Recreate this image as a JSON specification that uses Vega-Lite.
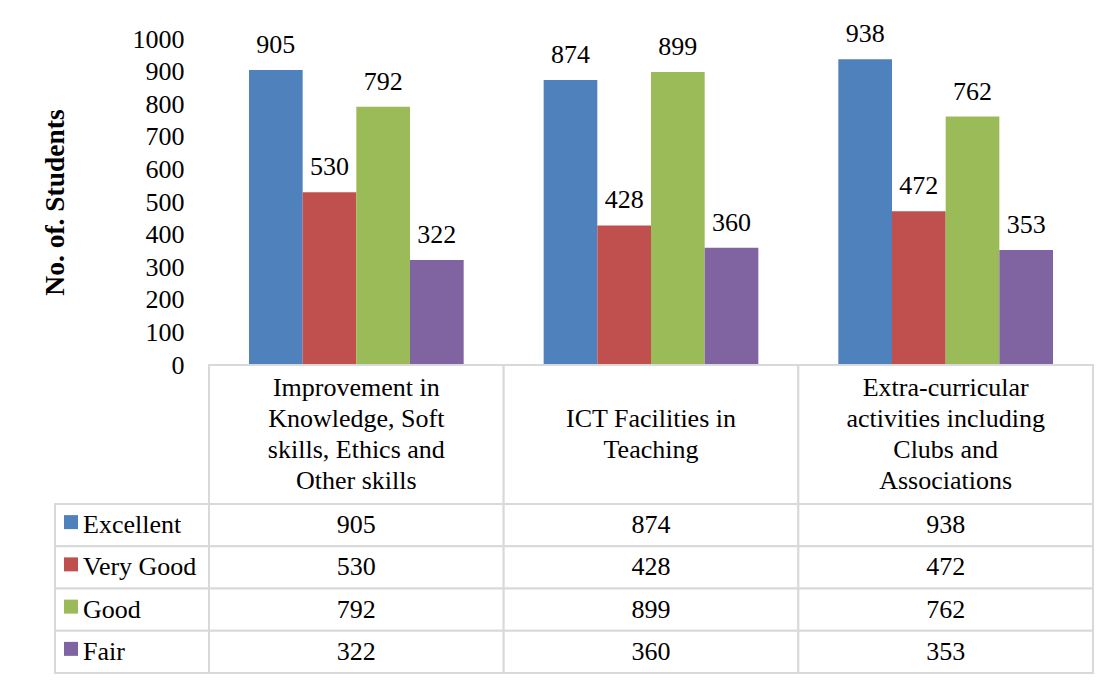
{
  "$schema": "https://vega.github.io/schema/vega-lite/v6.json",
  "autosize": {"type": "pad"},
  "padding": {"left": 41, "top": 21, "right": 20, "bottom": 7},
  "background": "white",
  "config": {
    "view": {"stroke": null},
    "font": "Liberation Serif",
    "text": {"font": "Liberation Serif", "fontSize": 26, "color": "black"}
  },
  "datasets": {
    "scores": [
      {"category": "Improvement in Knowledge, Soft skills, Ethics and Other skills", "series": "Excellent", "value": 905},
      {"category": "Improvement in Knowledge, Soft skills, Ethics and Other skills", "series": "Very Good", "value": 530},
      {"category": "Improvement in Knowledge, Soft skills, Ethics and Other skills", "series": "Good", "value": 792},
      {"category": "Improvement in Knowledge, Soft skills, Ethics and Other skills", "series": "Fair", "value": 322},
      {"category": "ICT Facilities in Teaching", "series": "Excellent", "value": 874},
      {"category": "ICT Facilities in Teaching", "series": "Very Good", "value": 428},
      {"category": "ICT Facilities in Teaching", "series": "Good", "value": 899},
      {"category": "ICT Facilities in Teaching", "series": "Fair", "value": 360},
      {"category": "Extra-curricular activities including Clubs and Associations", "series": "Excellent", "value": 938},
      {"category": "Extra-curricular activities including Clubs and Associations", "series": "Very Good", "value": 472},
      {"category": "Extra-curricular activities including Clubs and Associations", "series": "Good", "value": 762},
      {"category": "Extra-curricular activities including Clubs and Associations", "series": "Fair", "value": 353}
    ],
    "categories": [
      {"category": "Improvement in Knowledge, Soft skills, Ethics and Other skills", "label": ["Improvement in", "Knowledge, Soft", "skills, Ethics and", "Other skills"]},
      {"category": "ICT Facilities in Teaching", "label": ["ICT Facilities in", "Teaching"]},
      {"category": "Extra-curricular activities including Clubs and Associations", "label": ["Extra-curricular", "activities including", "Clubs and", "Associations"]}
    ]
  },
  "columns": 2,
  "spacing": 0,
  "bounds": "flush",
  "align": "each",
  "concat": [
    {
      "width": 154, "height": 326,
      "data": {"values": [{}]},
      "mark": {"type": "text"},
      "encoding": {"text": {"value": ""}}
    },
    {
      "width": 884, "height": 326,
      "data": {"name": "scores"},
      "encoding": {
        "x": {"field": "category", "type": "nominal", "sort": null,
              "scale": {"paddingInner": 0, "paddingOuter": 0}, "axis": null},
        "xOffset": {"field": "series", "type": "nominal",
                    "sort": ["Excellent", "Very Good", "Good", "Fair"],
                    "scale": {"domain": ["Excellent", "Very Good", "Good", "Fair"], "paddingInner": 0, "paddingOuter": 0.745}},
        "y": {"field": "value", "type": "quantitative",
              "scale": {"domain": [0, 1000], "nice": false},
              "axis": {
                "title": "No. of.  Students",
                "titleFont": "Liberation Serif", "titleFontSize": 27.5, "titleFontWeight": "bold", "titleColor": "black",
                "titlePadding": 63,
                "labelFont": "Liberation Serif", "labelFontSize": 26, "labelColor": "black", "labelPadding": 25,
                "format": "d",
                "values": [0, 100, 200, 300, 400, 500, 600, 700, 800, 900, 1000],
                "ticks": false, "domain": false, "grid": false
              }}
      },
      "layer": [
        {
          "mark": {"type": "bar"},
          "encoding": {
            "color": {"field": "series", "type": "nominal",
                      "scale": {"domain": ["Excellent", "Very Good", "Good", "Fair"], "range": ["#4F81BD", "#C0504D", "#9BBB59", "#8064A2"]},
                      "legend": null}
          }
        },
        {
          "mark": {"type": "text", "baseline": "alphabetic", "dy": -17, "fontSize": 26, "font": "Liberation Serif", "color": "black"},
          "encoding": {"text": {"field": "value", "type": "quantitative"}}
        }
      ]
    },
    {
      "width": 154, "height": 139,
      "data": {"values": [{}]},
      "mark": {"type": "text"},
      "encoding": {"text": {"value": ""}}
    },
    {
      "width": 884, "height": 139,
      "data": {"name": "categories"},
      "encoding": {
        "x": {"field": "category", "type": "nominal", "sort": null,
              "scale": {"paddingInner": 0, "paddingOuter": 0}, "axis": null}
      },
      "layer": [
        {"mark": {"type": "rect", "fill": "white", "stroke": "#D9D9D9", "strokeWidth": 2}},
        {
          "mark": {"type": "text", "baseline": "middle", "align": "center", "lineHeight": 31, "fontSize": 26,
                   "font": "Liberation Serif", "color": "black",
                   "dy": {"expr": "-(length(datum.label) - 1) * 15.5"}},
          "encoding": {"text": {"field": "label"}}
        }
      ]
    },
    {
      "width": 154, "height": 169,
      "data": {"name": "scores"},
      "transform": [{"filter": "datum.category === 'ICT Facilities in Teaching'"}],
      "encoding": {
        "y": {"field": "series", "type": "nominal", "sort": ["Excellent", "Very Good", "Good", "Fair"],
              "scale": {"paddingInner": 0, "paddingOuter": 0}, "axis": null}
      },
      "layer": [
        {"mark": {"type": "rect", "fill": "white", "stroke": "#D9D9D9", "strokeWidth": 2}},
        {
          "mark": {"type": "point", "shape": "square", "filled": true, "size": 196, "opacity": 1, "xOffset": -61, "yOffset": -3},
          "encoding": {
            "color": {"field": "series", "type": "nominal",
                      "scale": {"domain": ["Excellent", "Very Good", "Good", "Fair"], "range": ["#4F81BD", "#C0504D", "#9BBB59", "#8064A2"]},
                      "legend": null}
          }
        },
        {
          "mark": {"type": "text", "align": "left", "baseline": "middle", "dx": -49, "fontSize": 26, "font": "Liberation Serif", "color": "black"},
          "encoding": {"text": {"field": "series"}}
        }
      ]
    },
    {
      "width": 884, "height": 169,
      "data": {"name": "scores"},
      "encoding": {
        "x": {"field": "category", "type": "nominal", "sort": null,
              "scale": {"paddingInner": 0, "paddingOuter": 0}, "axis": null},
        "y": {"field": "series", "type": "nominal", "sort": ["Excellent", "Very Good", "Good", "Fair"],
              "scale": {"paddingInner": 0, "paddingOuter": 0}, "axis": null}
      },
      "layer": [
        {"mark": {"type": "rect", "fill": "white", "stroke": "#D9D9D9", "strokeWidth": 2}},
        {
          "mark": {"type": "text", "align": "center", "baseline": "middle", "fontSize": 26, "font": "Liberation Serif", "color": "black"},
          "encoding": {"text": {"field": "value", "type": "quantitative"}}
        }
      ]
    }
  ]
}
